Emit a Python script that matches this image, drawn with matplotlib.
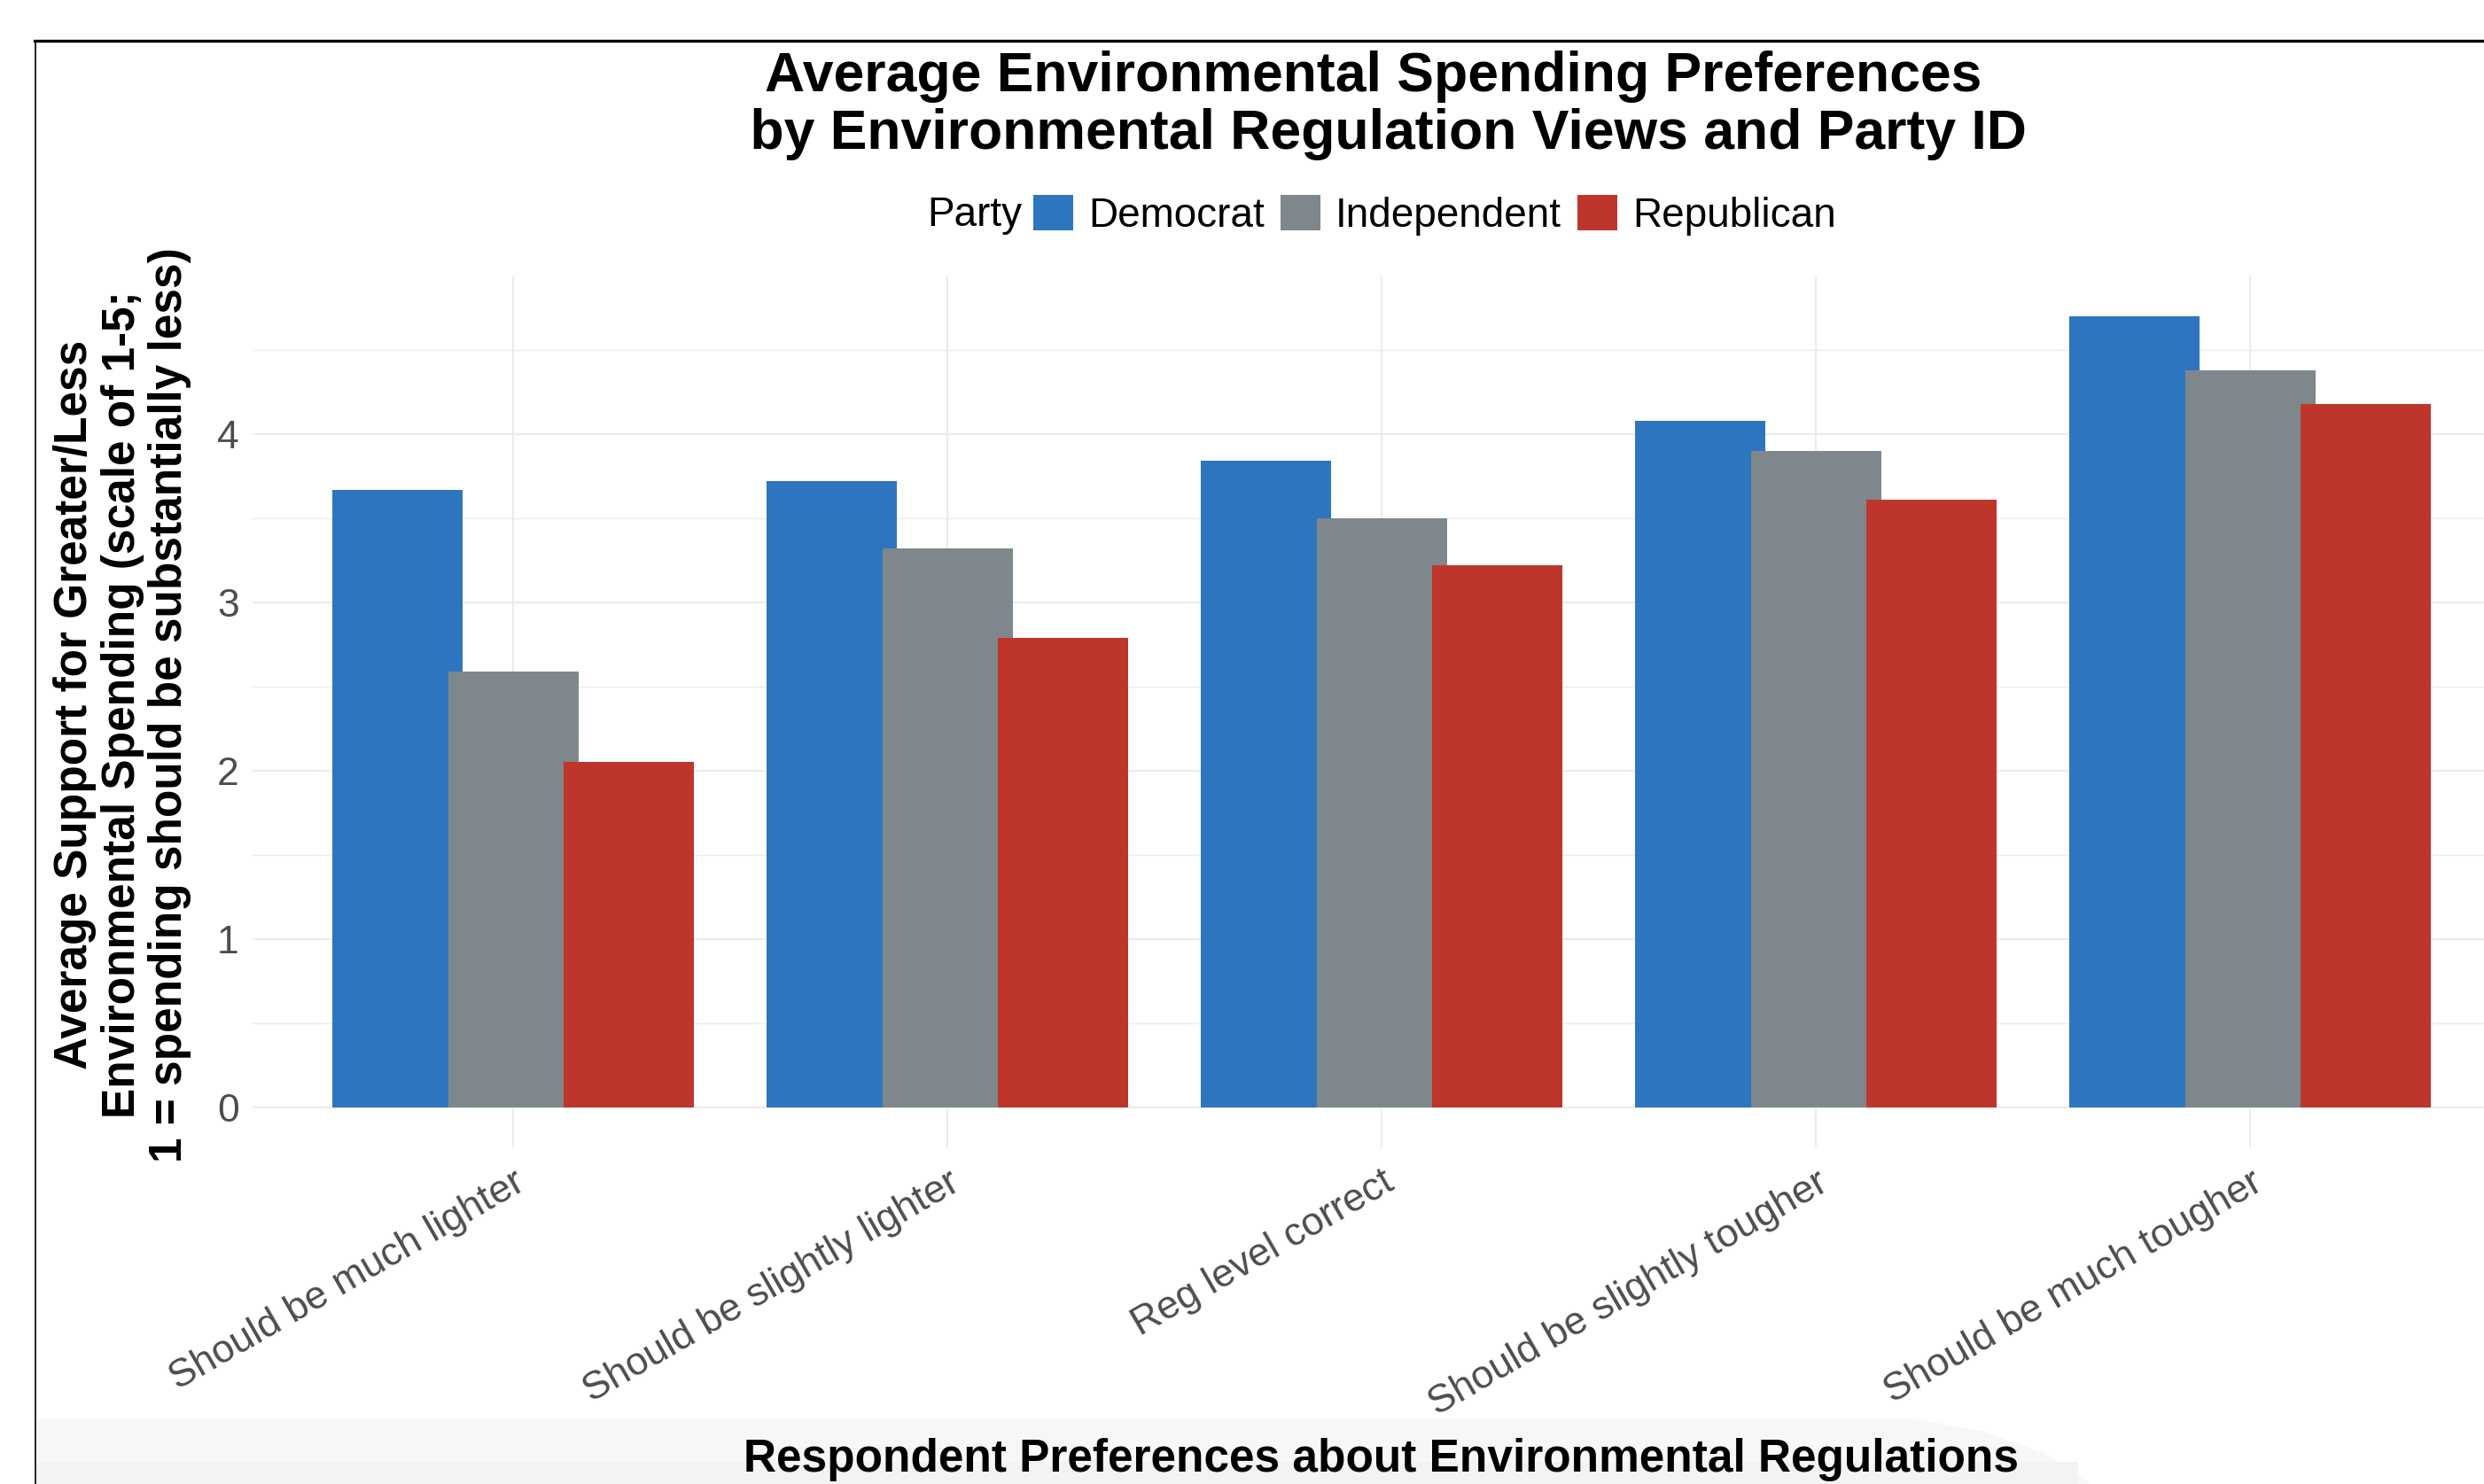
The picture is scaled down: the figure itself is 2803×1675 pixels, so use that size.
import numpy as np
import matplotlib
matplotlib.use("Agg")
import matplotlib.pyplot as plt
import matplotlib.patches as patches
import matplotlib.lines as lines

plt.rcParams['font.family'] = ['Liberation Sans', 'DejaVu Sans']

# Data
categories = ["Should be much lighter", "Should be slightly lighter", "Reg level correct",
              "Should be slightly tougher", "Should be much tougher"]
parties = ["Democrat", "Independent", "Republican"]
democrat = [3.67, 3.72, 3.84, 4.08, 4.70]
independent = [2.59, 3.32, 3.50, 3.90, 4.38]
republican = [2.05, 2.79, 3.22, 3.61, 4.18]
yticks = [0, 1, 2, 3, 4]

colors = ['#2E75C0', '#7E878C', '#BE362B']
series = [democrat, independent, republican]

W, H = 2803, 1675
fig = plt.figure(figsize=(W / 100, H / 100), dpi=100)

# panel box (in pixels) -> figure fractions
left, right, top, bottom = 285, 2833, 312.4, 1294.6
ax = fig.add_axes([left / W, 1 - bottom / H, (right - left) / W, (bottom - top) / H])

x = np.arange(1, len(categories) + 1)
dodge = 0.8 / 3
for i, (vals, col, name) in enumerate(zip(series, colors, parties)):
    ax.bar(x + (i - 1) * dodge, vals, width=0.3, color=col, label=name, zorder=2)

ax.set_xlim(0.4, 5.6)
ax.set_ylim(-0.235, 4.935)
ax.set_yticks(yticks)
ax.set_yticks(np.arange(0.5, 5, 1), minor=True)
ax.set_xticks(x)
ax.set_xticklabels(categories, rotation=30, ha='right', va='top', rotation_mode='anchor')

ax.grid(True, which='major', color='#EBEBEB', linewidth=1.5, zorder=0)
ax.grid(True, which='minor', axis='y', color='#EBEBEB', linewidth=0.9, zorder=0)
ax.set_axisbelow(True)
for s in ax.spines.values():
    s.set_visible(False)
ax.tick_params(which='both', length=0, labelsize=32, labelcolor='#4D4D4D')
ax.tick_params(axis='y', pad=11)
ax.tick_params(axis='x', pad=14)

ax.set_ylabel("Average Support for Greater/Less\nEnvironmental Spending (scale of 1-5;\n1 = spending should be substantially less)",
              fontsize=37, fontweight='bold', linespacing=1.12)
ax.yaxis.set_label_coords(-0.027, 0.508)

ax.set_xlabel("Respondent Preferences about Environmental Regulations", fontsize=37, fontweight='bold')
ax.xaxis.label.set_va('baseline')
ax.xaxis.set_label_coords(0.5, (bottom - 1661) / (bottom - top))

# title
fig.text(1558 / W, 1 - 119 / H,
         "Average Environmental Spending Preferences \n by Environmental Regulation Views and Party ID",
         ha='center', va='center', fontsize=45, fontweight='bold', linespacing=1.12)

# legend
handles, labels = ax.get_legend_handles_labels()
fig.legend(handles, labels, loc='center', bbox_to_anchor=(1619 / W, 1 - 243 / H), ncol=3,
           frameon=False, fontsize=33, handlelength=0.98, handleheight=0.98,
           handletextpad=0.37, columnspacing=0.4, borderpad=0, borderaxespad=0)
fig.text(1046 / W, 1 - 243 / H, "Party", ha='left', va='center', fontsize=33)

# screenshot frame and light band at the bottom
fig.add_artist(lines.Line2D([39 / W, 1], [1 - 46 / H, 1 - 46 / H], transform=fig.transFigure,
                            color='black', linewidth=2.4))
fig.add_artist(lines.Line2D([40 / W, 40 / W], [0, 1 - 46 / H], transform=fig.transFigure,
                            color='black', linewidth=1.2))
band_pts = [(41, 1602), (2163, 1602), (2235, 1615), (2306, 1640), (2360, 1675), (41, 1675)]
band = patches.Polygon([(px / W, 1 - py / H) for px, py in band_pts], closed=True,
                       transform=fig.transFigure, facecolor='#F7F7F7', edgecolor='none', zorder=-1)
fig.add_artist(band)
band2 = patches.Rectangle((41 / W, 0), (2345 - 41) / W, 25 / H, transform=fig.transFigure,
                          facecolor='#F3F3F3', edgecolor='none', zorder=-1)
fig.add_artist(band2)

fig.savefig("out.png", dpi=100)
